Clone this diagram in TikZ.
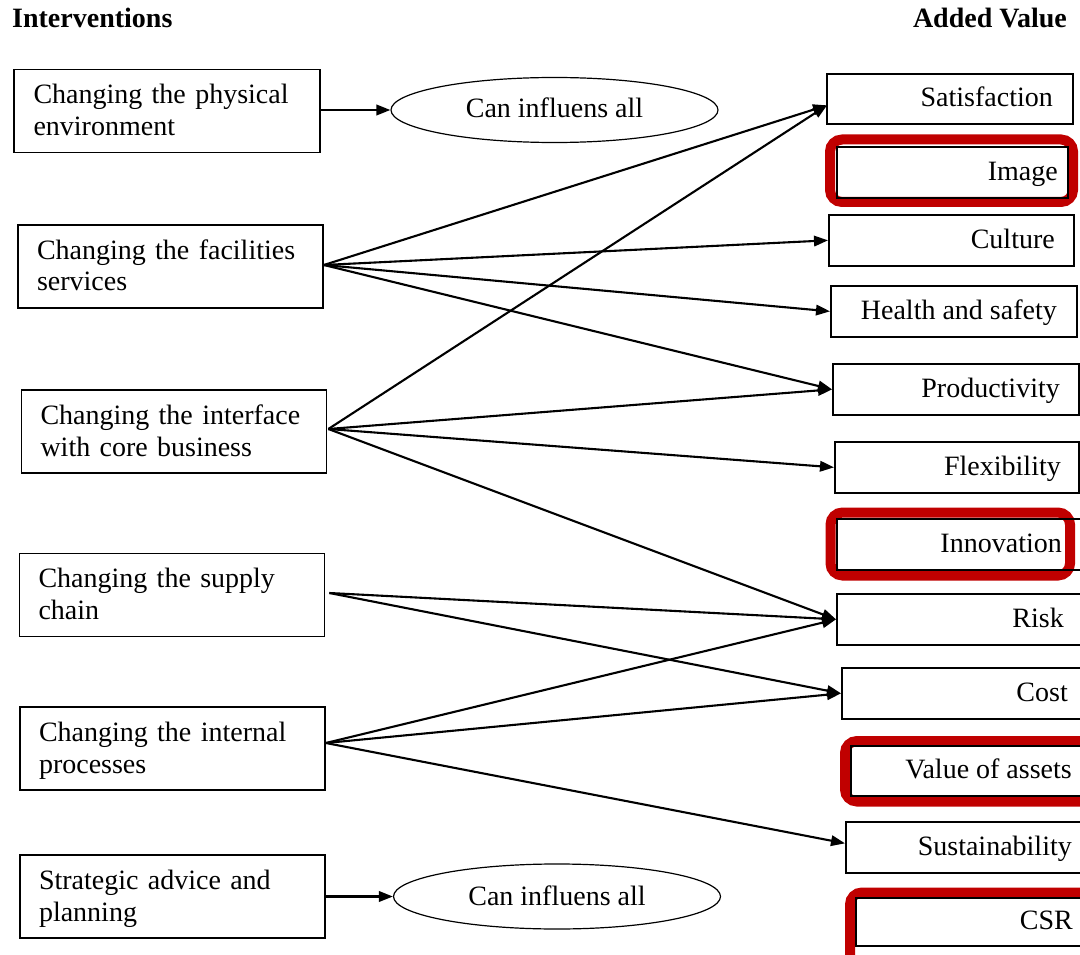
\documentclass[tikz,border=0pt]{standalone}
\usepackage{fontspec}
\setmainfont{Liberation Serif}
\usetikzlibrary{arrows.meta,shapes.geometric,calc}
\definecolor{markred}{RGB}{192,0,0}
\newcommand\ls{\rule[-7pt]{0pt}{31pt}}
\begin{document}
\begin{tikzpicture}[x=1pt,y=-1pt,
  every node/.style={font=\fontsize{28}{32}\selectfont},
  lbox/.style={draw, line width=1.7pt, minimum height=83pt, text width=267pt,
    inner xsep=19pt, inner ysep=0pt, align=left},
  rbox/.style={draw, line width=1.7pt, inner sep=0pt, anchor=north west},
  oval/.style={draw, ellipse, line width=1.2pt, inner sep=0pt,
    minimum width=327pt, minimum height=65pt},
  arr/.style={line width=2.1pt, -{Triangle[length=14pt,width=10.5pt]}},
  redframe/.style={draw=markred, line width=10pt, rounded corners=12pt},
  head/.style={font=\fontsize{28}{32}\selectfont\bfseries},
  lbl/.style={anchor=base east, inner sep=0pt}]
\useasboundingbox (0,0) rectangle (1080,955);
\clip (0,0) rectangle (1080,955);

% column headings
\node[head, anchor=base west, inner sep=0pt] (hl) at (12,28) {Interventions};
\node[head, anchor=base east, inner sep=0pt] (hr) at (1067,28) {Added Value};

% interventions
\node[lbox, minimum width=306pt] (pe) at (167,111) {Changing the physical\ls\\environment\ls};
\node[lbox] (fs) at (170.5,266.5) {Changing the facilities\ls\\services\ls};
\node[lbox] (ic) at (174,431.5) {Changing the interface\ls\\with core business\ls};
\node[lbox] (sc) at (172,595) {Changing the supply\ls\\chain\ls};
\node[lbox] (ip) at (172.5,748.5) {Changing the internal\ls\\processes\ls};
\node[lbox] (sa) at (172.5,896.5) {Strategic advice and\ls\\planning\ls};

% "can influence all" ovals
\node[oval] (e1) at (554.5,110) {};
\node[anchor=base, inner sep=0pt] (e1t) at (554.5,118) {Can influens all};
\node[oval] (e2) at (557,896.5) {};
\node[anchor=base, inner sep=0pt] (e2t) at (557,905) {Can influens all};

% highlight frames
\draw[redframe] (830,139.5) rectangle (1073,202);
\draw[redframe] (830.5,512.5) rectangle (1070,575.5);
\draw[redframe] (845,741) rectangle (1110,801.5);
\draw[redframe] (850,892.5) rectangle (1110,975);

% added value boxes
\node[rbox, minimum width=246pt, minimum height=50pt] (sat)  at (826,73)  {};
\node[rbox, minimum width=231pt, minimum height=51pt] (img)  at (836,146) {};
\node[rbox, minimum width=245pt, minimum height=51pt] (cul)  at (828,214) {};
\node[rbox, minimum width=246pt, minimum height=51pt] (hs)   at (830,285) {};
\node[rbox, minimum width=246pt, minimum height=51pt] (prod) at (832,363) {};
\node[rbox, minimum width=244pt, minimum height=51pt] (flex) at (834,441) {};
\node[rbox, minimum width=270pt, minimum height=51pt] (inn)  at (836,518) {};
\node[rbox, minimum width=270pt, minimum height=51pt] (risk) at (836,593) {};
\node[rbox, minimum width=270pt, minimum height=51pt] (cost) at (841,667) {};
\node[rbox, minimum width=270pt, minimum height=50pt] (val)  at (850,745) {};
\node[rbox, minimum width=270pt, minimum height=51pt] (sust) at (845,821) {};
\node[rbox, minimum width=270pt, minimum height=48pt] (csr)  at (855,897) {};

\node[lbl] (satT)  at (1053,107) {Satisfaction};
\node[lbl] (imgT)  at (1058,181) {Image};
\node[lbl] (culT)  at (1055,248) {Culture};
\node[lbl] (hsT)   at (1057,319) {Health and safety};
\node[lbl] (prodT) at (1060,397) {Productivity};
\node[lbl] (flexT) at (1061,475) {Flexibility};
\node[lbl] (innT)  at (1062,552) {Innovation};
\node[lbl] (riskT) at (1064,627) {Risk};
\node[lbl] (costT) at (1068,701) {Cost};
\node[lbl] (valT)  at (1072,778) {Value of assets};
\node[lbl] (sustT) at (1072,855) {Sustainability};
\node[lbl] (csrT)  at (1073,929) {CSR};

% connector end points
\coordinate (peO) at ($(pe.east)+(0,-1)$);
\coordinate (fsO) at ($(fs.east)+(0,-1.5)$);
\coordinate (icO) at ($(ic.east)+(1,-2.5)$);
\coordinate (scO) at ($(sc.east)+(4,-2)$);
\coordinate (ipO) at ($(ip.east)+(0,-5.5)$);
\coordinate (satI) at ($(sat.west)+(1,6.5)$);
\coordinate (sustI) at ($(sust.west)+(0,-4)$);

% connectors
\draw[arr] (peO) -- (e1.west);
\draw[arr] (sa.east) -- (e2.west);

\draw[arr] (fsO) -- (satI);
\draw[arr] (fsO) -- (cul.west);
\draw[arr] (fsO) -- (hs.west);
\draw[arr] (fsO) -- (prod.west);

\draw[arr] (icO) -- (satI);
\draw[arr] (icO) -- (prod.west);
\draw[arr] (icO) -- (flex.west);
\draw[arr] (icO) -- (risk.west);

\draw[arr] (scO) -- (risk.west);
\draw[arr] (scO) -- (cost.west);

\draw[arr] (ipO) -- (risk.west);
\draw[arr] (ipO) -- (cost.west);
\draw[arr] (ipO) -- (sustI);
\end{tikzpicture}
\end{document}
